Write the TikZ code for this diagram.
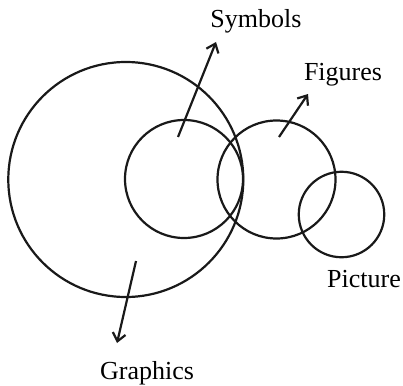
\documentclass[tikz,border=0pt]{standalone}
\usepackage{fontspec}
\setmainfont{Liberation Serif}
\usetikzlibrary{arrows.meta}
\begin{document}
\begin{tikzpicture}[x=1pt,y=-1pt,
  ring/.style={draw=black!90, line width=2.2pt, circle, inner sep=0pt},
  lbl/.style={font=\fontsize{26}{28}\selectfont, inner sep=0pt, anchor=base},
  pointer/.style={draw=black!90, line width=2.2pt, -{Straight Barb[length=8pt,width=13pt,line width=2.2pt]}}]
\useasboundingbox (0,0) rectangle (403,385);
\node[ring, minimum size=235pt] (graphics) at (125.8,179.5) {};
\node[ring, minimum size=118pt] (symbols) at (184,179) {};
\node[ring, minimum size=118pt] (figures) at (276.5,179.5) {};
\node[ring, minimum size=85.5pt] (picture) at (341.5,214.5) {};
\coordinate (s0) at (178,137);
\coordinate (s1) at (216,42);
\coordinate (f0) at (279,137);
\coordinate (f1) at (308,94);
\coordinate (g0) at (136,261);
\coordinate (g1) at (117,343);
\draw[pointer] (s0) -- (s1);
\draw[pointer] (f0) -- (f1);
\draw[pointer] (g0) -- (g1);
\node[lbl] (lsym) at (256,28) {Symbols};
\node[lbl] (lfig) at (343,81) {Figures};
\node[lbl] (lpic) at (364,287) {Picture};
\node[lbl] (lgra) at (147,379) {Graphics};
\end{tikzpicture}
\end{document}
